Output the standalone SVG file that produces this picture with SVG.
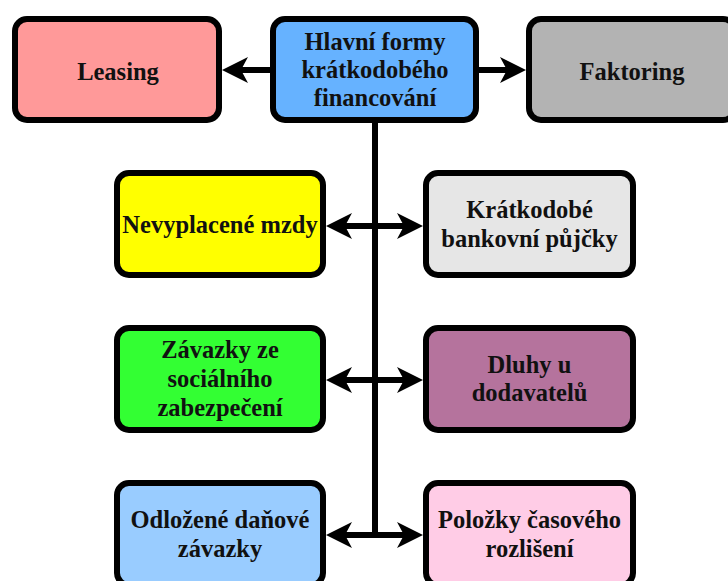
<svg xmlns="http://www.w3.org/2000/svg" width="728" height="581" viewBox="0 0 728 581">
  <style>
    .box { stroke: #000; stroke-width: 6; }
    .lbl { font-family: "Liberation Serif", "Times New Roman", serif; font-size: 24.5px; font-weight: bold; fill: #111; text-anchor: middle; }
    .wire { stroke: #000; stroke-width: 6; fill: none; }
    .arr { marker-end: url(#head); }
  </style>
  <defs>
    <marker id="head" viewBox="0 0 26 26" refX="7" refY="13" markerWidth="26" markerHeight="26" markerUnits="userSpaceOnUse" orient="auto">
      <path d="M0,0 L26,13 L0,26 L7,13 Z" fill="#000"/>
    </marker>
  </defs>
  <rect width="728" height="581" fill="#fff"/>

  <g id="connectors">
    <line class="wire arr" x1="276" y1="70" x2="241" y2="70"/>
    <line class="wire arr" x1="476" y1="70" x2="507" y2="70"/>
    <line class="wire" x1="375" y1="120" x2="375" y2="538"/>
    <line class="wire arr" x1="375" y1="226" x2="345" y2="226"/>
    <line class="wire arr" x1="375" y1="226" x2="404" y2="226"/>
    <line class="wire arr" x1="375" y1="380" x2="345" y2="380"/>
    <line class="wire arr" x1="375" y1="380" x2="404" y2="380"/>
    <line class="wire arr" x1="378" y1="535" x2="345" y2="535"/>
    <line class="wire arr" x1="372" y1="535" x2="404" y2="535"/>
  </g>

  <g id="leasing">
    <rect class="box" x="15" y="19" width="204" height="101" rx="12" fill="#FF9999"/>
    <text class="lbl" x="118" y="80">Leasing</text>
  </g>
  <g id="hlavni-formy">
    <rect class="box" x="273" y="19" width="203" height="101" rx="12" fill="#66B2FF"/>
    <text class="lbl" x="375" y="50">Hlavní formy</text>
    <text class="lbl" x="375" y="78">krátkodobého</text>
    <text class="lbl" x="375" y="106">financování</text>
  </g>
  <g id="faktoring">
    <rect class="box" x="529" y="19" width="206" height="101" rx="12" fill="#B3B3B3"/>
    <text class="lbl" x="632" y="80">Faktoring</text>
  </g>

  <g id="nevyplacene-mzdy">
    <rect class="box" x="117" y="173" width="206" height="102" rx="12" fill="#FFFF00"/>
    <text class="lbl" x="220" y="233">Nevyplacené mzdy</text>
  </g>
  <g id="bankovni-pujcky">
    <rect class="box" x="426" y="173" width="207" height="102" rx="12" fill="#E6E6E6"/>
    <text class="lbl" x="529.5" y="218">Krátkodobé</text>
    <text class="lbl" x="529.5" y="247">bankovní půjčky</text>
  </g>

  <g id="socialni-zabezpeceni">
    <rect class="box" x="117" y="328" width="206" height="102" rx="12" fill="#33FF33"/>
    <text class="lbl" x="220" y="358">Závazky ze</text>
    <text class="lbl" x="220" y="387">sociálního</text>
    <text class="lbl" x="220" y="416">zabezpečení</text>
  </g>
  <g id="dluhy-dodavatelu">
    <rect class="box" x="426" y="328" width="207" height="102" rx="12" fill="#B5739D"/>
    <text class="lbl" x="529.5" y="373">Dluhy u</text>
    <text class="lbl" x="529.5" y="401">dodavatelů</text>
  </g>

  <g id="danove-zavazky">
    <rect class="box" x="117" y="483" width="206" height="102" rx="12" fill="#99CCFF"/>
    <text class="lbl" x="220" y="528">Odložené daňové</text>
    <text class="lbl" x="220" y="557">závazky</text>
  </g>
  <g id="casove-rozliseni">
    <rect class="box" x="426" y="483" width="207" height="102" rx="12" fill="#FFCCE6"/>
    <text class="lbl" x="529.5" y="528">Položky časového</text>
    <text class="lbl" x="529.5" y="557">rozlišení</text>
  </g>
</svg>
